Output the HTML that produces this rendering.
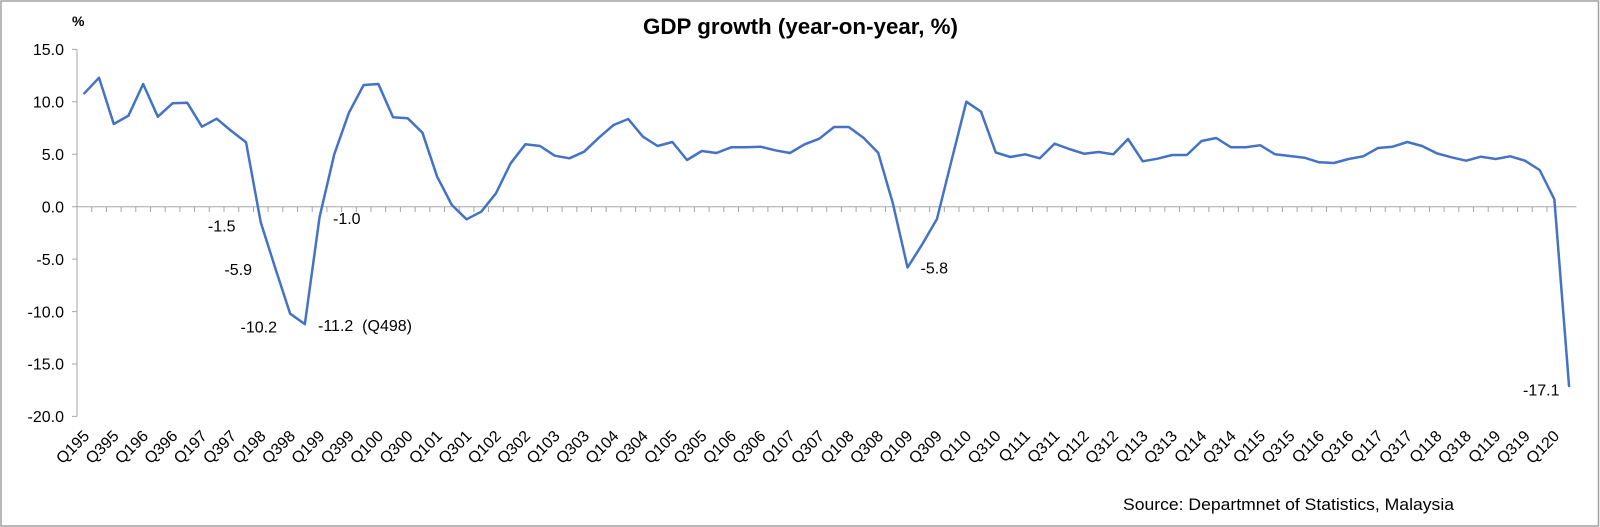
<!DOCTYPE html>
<html><head><meta charset="utf-8"><style>
html,body{margin:0;padding:0;background:#fff;}
svg{display:block;}
text{font-family:"Liberation Sans",Arial,sans-serif;fill:#000;}
</style></head><body>
<svg width="1600" height="527" viewBox="0 0 1600 527" xmlns="http://www.w3.org/2000/svg">
<rect x="0" y="0" width="1600" height="527" fill="#fff"/>
<rect x="1" y="1" width="1597.5" height="525" fill="none" stroke="#a0a0a0" stroke-width="1.5"/>

<text x="800.5" y="34" font-size="22" font-weight="bold" text-anchor="middle" textLength="315" lengthAdjust="spacingAndGlyphs">GDP growth (year-on-year, %)</text>
<text x="72" y="26" font-size="14" font-weight="bold">%</text>

<!-- y axis -->
<path d="M77 49.4V416.4M72 49.4H77M72 101.8H77M72 154.3H77M72 206.7H77M72 259.1H77M72 311.6H77M72 364H77M72 416.4H77" stroke="#a6a6a6" stroke-width="1" fill="none"/>
<g font-size="16" text-anchor="end">
<text x="64" y="55.1">15.0</text>
<text x="64" y="107.5">10.0</text>
<text x="64" y="160">5.0</text>
<text x="64" y="212.4">0.0</text>
<text x="64" y="264.8">-5.0</text>
<text x="64" y="317.3">-10.0</text>
<text x="64" y="369.7">-15.0</text>
<text x="64" y="422.1">-20.0</text>
</g>

<!-- x axis -->
<path d="M77 206.7H1576.4" stroke="#a6a6a6" stroke-width="1" fill="none"/>
<path d="M77 207v5m14.7-5v5m14.7-5v5m14.7-5v5m14.7-5v5m14.7-5v5m14.7-5v5m14.7-5v5m14.7-5v5m14.7-5v5m14.7-5v5m14.7-5v5m14.7-5v5m14.7-5v5m14.7-5v5m14.7-5v5m14.7-5v5m14.7-5v5m14.7-5v5m14.7-5v5m14.7-5v5m14.7-5v5m14.7-5v5m14.7-5v5m14.7-5v5m14.7-5v5m14.7-5v5m14.7-5v5m14.7-5v5m14.7-5v5m14.7-5v5m14.7-5v5m14.7-5v5m14.7-5v5m14.7-5v5m14.7-5v5m14.7-5v5m14.7-5v5m14.7-5v5m14.7-5v5m14.7-5v5m14.7-5v5m14.7-5v5m14.7-5v5m14.7-5v5m14.7-5v5m14.7-5v5m14.7-5v5m14.7-5v5m14.7-5v5m14.7-5v5m14.7-5v5m14.7-5v5m14.7-5v5m14.7-5v5m14.7-5v5m14.7-5v5m14.7-5v5m14.7-5v5m14.7-5v5m14.7-5v5m14.7-5v5m14.7-5v5m14.7-5v5m14.7-5v5m14.7-5v5m14.7-5v5m14.7-5v5m14.7-5v5m14.7-5v5m14.7-5v5m14.7-5v5m14.7-5v5m14.7-5v5m14.7-5v5m14.7-5v5m14.7-5v5m14.7-5v5m14.7-5v5m14.7-5v5m14.7-5v5m14.7-5v5m14.7-5v5m14.7-5v5m14.7-5v5m14.7-5v5m14.7-5v5m14.7-5v5m14.7-5v5m14.7-5v5m14.7-5v5m14.7-5v5m14.7-5v5m14.7-5v5m14.7-5v5m14.7-5v5m14.7-5v5m14.7-5v5m14.7-5v5m14.7-5v5m14.7-5v5" stroke="#a6a6a6" stroke-width="1" fill="none"/>

<!-- series -->
<polyline fill="none" stroke="#4472C4" stroke-width="2.5" stroke-linejoin="round" stroke-linecap="round" points="
84.35,93.3 99.05,77.7 113.75,124 128.45,115.7 143.15,84 157.85,116.7 172.55,103.3 187.25,102.7 201.95,126.7 216.65,118.7
231.35,131 246.05,142.3 260.75,222.4 275.45,268.6 290.15,313.7 304.85,324.1 319.55,217.2 334.25,154.3 348.95,112.7 363.65,85
378.35,84 393.05,117.3 407.75,118.3 422.45,132.7 437.15,176.7 451.85,205 466.55,219.3 481.25,211.7 495.95,193.3 510.65,163.3
525.35,144.3 540.05,146 554.75,155.7 569.45,158.3 584.15,151.7 598.85,137.7 613.55,125 628.25,119 642.95,136.7 657.65,146
672.35,142 687.05,160 701.75,151 716.45,153 731.15,147.3 745.85,147.3 760.55,146.7 775.25,150.3 789.95,153 804.65,144.3
819.35,138.7 834.05,127 848.75,127 863.45,137.7 878.15,152.7 892.85,203.3 907.55,267.5 922.25,244.3 936.95,219 951.65,160
966.35,101.7 981.05,111.7 995.75,152.5 1010.45,157 1025.15,154.3 1039.85,158.3 1054.55,143.7 1069.25,149 1083.95,153.7 1098.65,152
1113.35,154.3 1128.05,139 1142.75,161.3 1157.45,158.7 1172.15,155 1186.85,155 1201.55,141 1216.25,138 1230.95,147.3 1245.65,147.3
1260.35,145.3 1275.05,154.3 1289.75,156 1304.45,157.7 1319.15,162.3 1333.85,163 1348.55,159 1363.25,156.3 1377.95,148 1392.65,146.7
1407.35,142 1422.05,146 1436.75,153.3 1451.45,157.3 1466.15,160.7 1480.85,156.7 1495.55,159 1510.25,156.3 1524.95,160.7 1539.65,170
1554.35,199.3 1569.05,386"/>

<!-- data labels -->
<g font-size="16">
<text x="235.5" y="231.5" text-anchor="end">-1.5</text>
<text x="252" y="275" text-anchor="end">-5.9</text>
<text x="277" y="332.7" text-anchor="end">-10.2</text>
<text x="318" y="331" xml:space="preserve">-11.2  (Q498)</text>
<text x="333" y="224">-1.0</text>
<text x="920.5" y="273.3">-5.8</text>
<text x="1559.5" y="395.7" text-anchor="end">-17.1</text>
</g>

<!-- x labels -->
<g font-size="16" text-anchor="end">
<text transform="translate(90.35,437) rotate(-45)">Q195</text>
<text transform="translate(119.75,437) rotate(-45)">Q395</text>
<text transform="translate(149.15,437) rotate(-45)">Q196</text>
<text transform="translate(178.55,437) rotate(-45)">Q396</text>
<text transform="translate(207.95,437) rotate(-45)">Q197</text>
<text transform="translate(237.35,437) rotate(-45)">Q397</text>
<text transform="translate(266.75,437) rotate(-45)">Q198</text>
<text transform="translate(296.15,437) rotate(-45)">Q398</text>
<text transform="translate(325.55,437) rotate(-45)">Q199</text>
<text transform="translate(354.95,437) rotate(-45)">Q399</text>
<text transform="translate(384.35,437) rotate(-45)">Q100</text>
<text transform="translate(413.75,437) rotate(-45)">Q300</text>
<text transform="translate(443.15,437) rotate(-45)">Q101</text>
<text transform="translate(472.55,437) rotate(-45)">Q301</text>
<text transform="translate(501.95,437) rotate(-45)">Q102</text>
<text transform="translate(531.35,437) rotate(-45)">Q302</text>
<text transform="translate(560.75,437) rotate(-45)">Q103</text>
<text transform="translate(590.15,437) rotate(-45)">Q303</text>
<text transform="translate(619.55,437) rotate(-45)">Q104</text>
<text transform="translate(648.95,437) rotate(-45)">Q304</text>
<text transform="translate(678.35,437) rotate(-45)">Q105</text>
<text transform="translate(707.75,437) rotate(-45)">Q305</text>
<text transform="translate(737.15,437) rotate(-45)">Q106</text>
<text transform="translate(766.55,437) rotate(-45)">Q306</text>
<text transform="translate(795.95,437) rotate(-45)">Q107</text>
<text transform="translate(825.35,437) rotate(-45)">Q307</text>
<text transform="translate(854.75,437) rotate(-45)">Q108</text>
<text transform="translate(884.15,437) rotate(-45)">Q308</text>
<text transform="translate(913.55,437) rotate(-45)">Q109</text>
<text transform="translate(942.95,437) rotate(-45)">Q309</text>
<text transform="translate(972.35,437) rotate(-45)">Q110</text>
<text transform="translate(1001.75,437) rotate(-45)">Q310</text>
<text transform="translate(1031.15,437) rotate(-45)">Q111</text>
<text transform="translate(1060.55,437) rotate(-45)">Q311</text>
<text transform="translate(1089.95,437) rotate(-45)">Q112</text>
<text transform="translate(1119.35,437) rotate(-45)">Q312</text>
<text transform="translate(1148.75,437) rotate(-45)">Q113</text>
<text transform="translate(1178.15,437) rotate(-45)">Q313</text>
<text transform="translate(1207.55,437) rotate(-45)">Q114</text>
<text transform="translate(1236.95,437) rotate(-45)">Q314</text>
<text transform="translate(1266.35,437) rotate(-45)">Q115</text>
<text transform="translate(1295.75,437) rotate(-45)">Q315</text>
<text transform="translate(1325.15,437) rotate(-45)">Q116</text>
<text transform="translate(1354.55,437) rotate(-45)">Q316</text>
<text transform="translate(1383.95,437) rotate(-45)">Q117</text>
<text transform="translate(1413.35,437) rotate(-45)">Q317</text>
<text transform="translate(1442.75,437) rotate(-45)">Q118</text>
<text transform="translate(1472.15,437) rotate(-45)">Q318</text>
<text transform="translate(1501.55,437) rotate(-45)">Q119</text>
<text transform="translate(1530.95,437) rotate(-45)">Q319</text>
<text transform="translate(1560.35,437) rotate(-45)">Q120</text>
</g>

<text x="1454" y="510" font-size="17" text-anchor="end" textLength="331" lengthAdjust="spacingAndGlyphs">Source: Departmnet of Statistics, Malaysia</text>
</svg>
</body></html>
